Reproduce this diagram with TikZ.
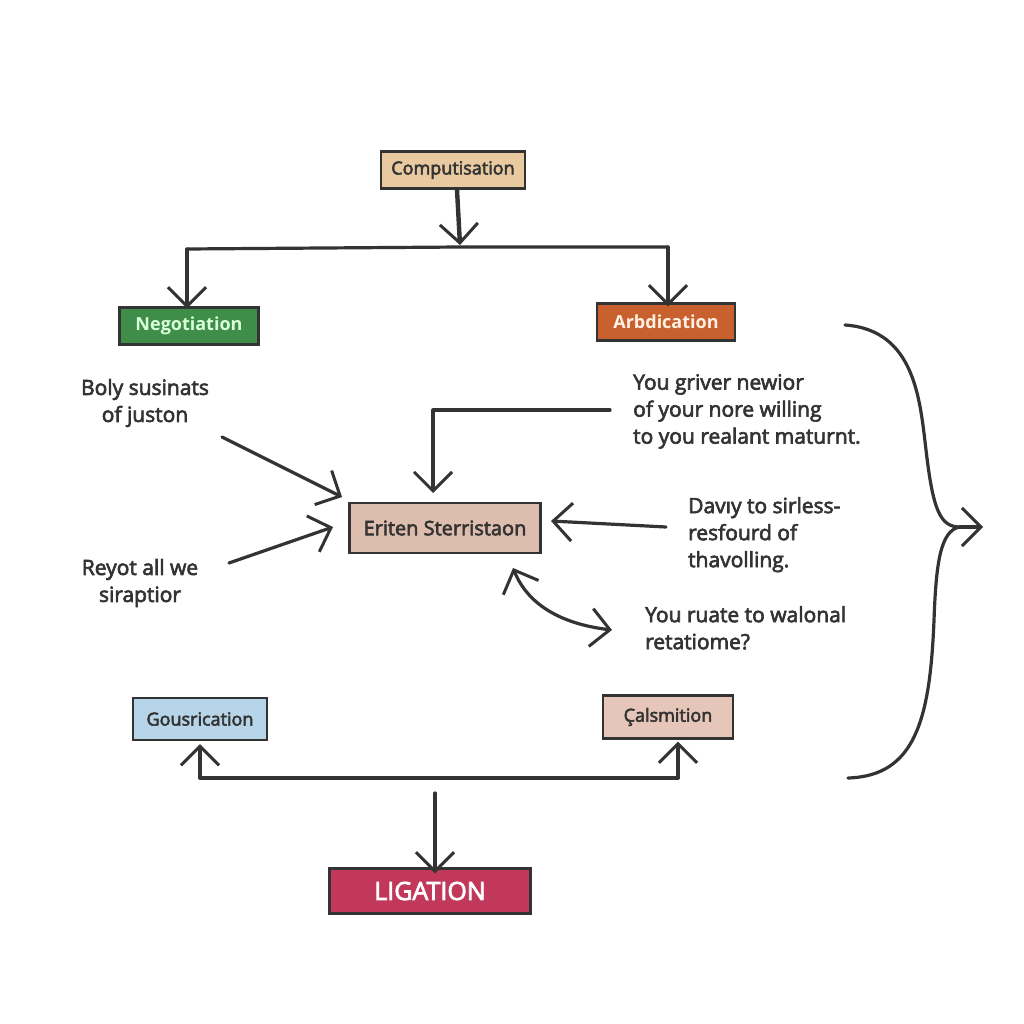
\documentclass[tikz,border=0pt]{standalone}
\usepackage{fontspec}
\setmainfont{Open Sans}
\newfontfamily\semi{Open Sans}[FakeBold=3]
\usetikzlibrary{arrows.meta}
\definecolor{ink}{HTML}{333333}
\definecolor{tanfill}{HTML}{E8C9A0}
\definecolor{greenfill}{HTML}{3E8E4A}
\definecolor{orangefill}{HTML}{C8612E}
\definecolor{pinkfill}{HTML}{DDBDAD}
\definecolor{bluefill}{HTML}{B7D5E8}
\definecolor{rosefill}{HTML}{E5C6B8}
\definecolor{crimson}{HTML}{C1385B}
\tikzset{
  box/.style={draw=ink, line width=2.4pt, inner sep=0pt, font=\semi\fontsize{18}{20}\selectfont},
  note/.style={text=ink, font=\semi\fontsize{21}{27}\selectfont, inner sep=0pt},
  conn/.style={draw=ink, line width=3.2pt, line cap=round, line join=round},
  arr/.style={conn, -{Straight Barb[length=19pt,width=38pt,line width=3pt]}},
  darr/.style={conn, {Straight Barb[length=19pt,width=38pt,line width=3pt]}-{Straight Barb[length=19pt,width=38pt,line width=3pt]}},
}
\begin{document}
\begin{tikzpicture}[x=1pt,y=-1pt]
\useasboundingbox[fill=white] (0,0) rectangle (1024,1024);

% boxes
\node[box, fill=tanfill, text=ink, minimum width=144pt, minimum height=37pt] (comp) at (453,170) {Computisation};
\node[box, fill=greenfill, text=white!85!green, minimum width=139pt, minimum height=37pt, font=\fontsize{18}{20}\selectfont\bfseries] (nego) at (189,326) {Negotiation};
\node[box, fill=orangefill, text=white!90!orange, minimum width=138pt, minimum height=37pt, font=\fontsize{18}{20}\selectfont\bfseries] (arbd) at (666,322) {Arbdication};
\node[box, fill=pinkfill, text=ink, minimum width=191pt, minimum height=50pt, font=\semi\fontsize{20}{22}\selectfont] (erit) at (445,528) {Eriten Sterristaon};
\node[box, fill=bluefill, text=ink, minimum width=134pt, minimum height=42pt] (gous) at (200,719) {Gousrication};
\node[box, fill=rosefill, text=ink, minimum width=130pt, minimum height=43pt] (cals) at (668,717) {Çalsmition};
\node[box, fill=crimson, text=white, minimum width=201pt, minimum height=45pt, font=\semi\fontsize{25}{27}\selectfont] (liga) at (430,891) {LIGATION};

% notes
\node[note, align=center] (n1) at (145,403) {Boly susinats\\of juston};
\node[note, align=center] (n2) at (140,583) {Reyot all we\\siraptior};
\node[note, align=left, anchor=north west] (n3) at (633,374) {You griver newior\\of your nore willing\\ to you realant maturnt.};
\node[note, align=left, anchor=north west] (n4) at (688,497) {Davıy to sirless-\\resfourd of\\thavolling.};
\node[note, align=left, anchor=north west] (n5) at (645,606) {You ruate to walonal\\ retatiome?};

% top connectors
\coordinate (topbar) at (460,245);
\draw[arr, line width=4.4pt] (comp.south) ++(4,0) -- (topbar);
\draw[conn] (187,249) -- (460,247) -- (668,247);
\draw[arr] (187,249) -- ([yshift=-2pt]nego.north -| 187,0);
\draw[arr] (668,247) -- ([yshift=-4pt]arbd.north -| 668,0);

% side arrows into centre box
\coordinate (a1s) at (222,437);
\coordinate (a1e) at (342,497);
\draw[arr] (a1s) -- (a1e);
\coordinate (a2s) at (229,563);
\coordinate (a2e) at (333,527);
\draw[arr] (a2s) -- (a2e);
\coordinate (a3s) at (610,410);
\coordinate (a3e) at (433,493);
\draw[arr] (a3s) -- (433,410) -- (a3e);
\coordinate (a4s) at (666,527);
\coordinate (a4e) at (551,521);
\draw[arr] (a4s) -- (a4e);
\coordinate (a5s) at (513,568);
\coordinate (a5e) at (612,630);
\draw[darr] (a5s) .. controls (530,610) and (570,625) .. (a5e);

% bottom connectors
\draw[conn] (200,778) -- (678,778);
\draw[arr] (200,778) -- ([yshift=-3pt]gous.south -| 200,0);
\draw[arr] (678,778) -- ([yshift=-2pt]cals.south -| 678,0);
\coordinate (lstart) at (435,793);
\draw[arr] (lstart) -- ([yshift=-6pt]liga.north -| 435,0);

% right brace
\coordinate (bt) at (845,325);
\coordinate (bm) at (960,527);
\coordinate (bb) at (848,778);
\coordinate (btip) at (983,527);
\draw[conn] (bt) .. controls (915,330) and (920,400) .. (926,450) .. controls (933,510) and (940,527) .. (bm);
\draw[conn] (bm) .. controls (940,530) and (936,565) .. (934,620) .. controls (930,720) and (915,776) .. (bb);
\draw[arr] (bm) -- (btip);
\end{tikzpicture}
\end{document}
